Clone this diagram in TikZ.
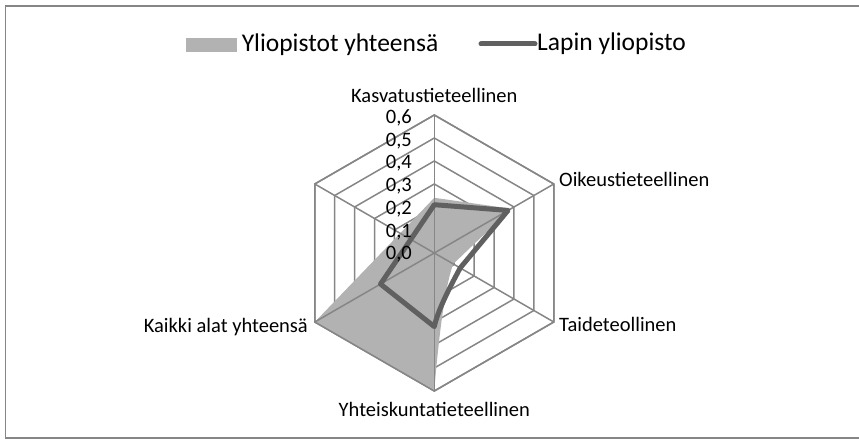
\documentclass[tikz,border=0pt]{standalone}
\usepackage{fontspec}
\setmainfont{Carlito}
\usepackage{xcolor}
\usetikzlibrary{positioning}
\definecolor{gridgray}{RGB}{134,134,134}
\definecolor{areagray}{RGB}{178,178,178}
\definecolor{linegray}{RGB}{96,96,96}

\begin{document}
\begin{tikzpicture}[x=1pt, y=1pt, font=\fontsize{20.5}{24}\selectfont]

	\tikzstyle{ring}=[draw=gridgray, line width=1.5pt]
	\tikzstyle{series}=[draw=linegray, line width=5pt, line join=round]
	\tikzstyle{axlabel}=[inner sep=0pt, anchor=base]
	\tikzstyle{legtext}=[inner sep=0pt, font=\fontsize{25.5}{30}\selectfont]
	\useasboundingbox (-434.3,-186) rectangle (424.7,253);
	\draw[draw=gridgray, line width=1.8pt] (-428.8,247.2) rectangle (428,-184.8);

	% grid rings
	\foreach \r in {1,...,6}
		\draw[ring] (90:23*\r) -- (30:23*\r) -- (-30:23*\r) -- (-90:23*\r) -- (210:23*\r) -- (150:23*\r) -- cycle;

	% Yliopistot yhteensa
	\coordinate (gK) at (90:55.2);
	\coordinate (gO) at (30:88.6);
	\coordinate (gT) at (-30:21.9);
	\coordinate (gY) at (-90:136.9);
	\coordinate (gA) at (210:138);
	\fill[areagray] (gK) -- (gO) -- (gT) .. controls (10,-35) and (4,-90) .. (gY) -- (gA) -- cycle;

	% spokes and outer ring on top
	\foreach \a in {90,30,-30,-90,210,150}
		\draw[ring] (0,0) -- (\a:138);
	\draw[ring] (90:138) -- (30:138) -- (-30:138) -- (-90:138) -- (210:138) -- (150:138) -- cycle;

	% Lapin yliopisto
	\coordinate (lK) at (90:48.3);
	\coordinate (lO) at (30:85.1);
	\coordinate (lT) at (-30:29.9);
	\coordinate (lY) at (-90:73.6);
	\coordinate (lA) at (210:62.1);
	\draw[series] (lK) -- (lO) -- (lT) .. controls (19,-28) and (4,-55) .. (lY) -- (lA) -- cycle;

	% value labels
	\foreach \v in {0,...,6}
		\node[axlabel, anchor=base east] (v\v) at (-22.3,-6.8+22.72*\v) {0,\v};

	% category labels
	\node[axlabel] (K) at (0,150.3) {Kasvatustieteellinen};
	\node[axlabel, anchor=base west] (O) at (124.7,66.3) {Oikeustieteellinen};
	\node[axlabel, anchor=base west] (T) at (124.7,-78.7) {Taideteollinen};
	\node[axlabel] (Y) at (0,-163) {Yhteiskuntatieteellinen};
	\node[axlabel, anchor=base east] (A) at (-126.3,-79) {Kaikki alat yhteensä};

	% legend
	\node[fill=areagray, minimum width=51pt, minimum height=14pt, inner sep=0pt] (sw1) at (-222.8,208) {};
	\node[legtext, right=4.4pt of sw1] (leg1) {Yliopistot yhteensä};
	\coordinate (sw2a) at (46.7,209);
	\coordinate (sw2b) at (100.7,209);
	\draw[series, line cap=round] (sw2a) -- (sw2b);
	\node[legtext, right=2pt of sw2b] (leg2) {Lapin yliopisto};

\end{tikzpicture}
\end{document}
